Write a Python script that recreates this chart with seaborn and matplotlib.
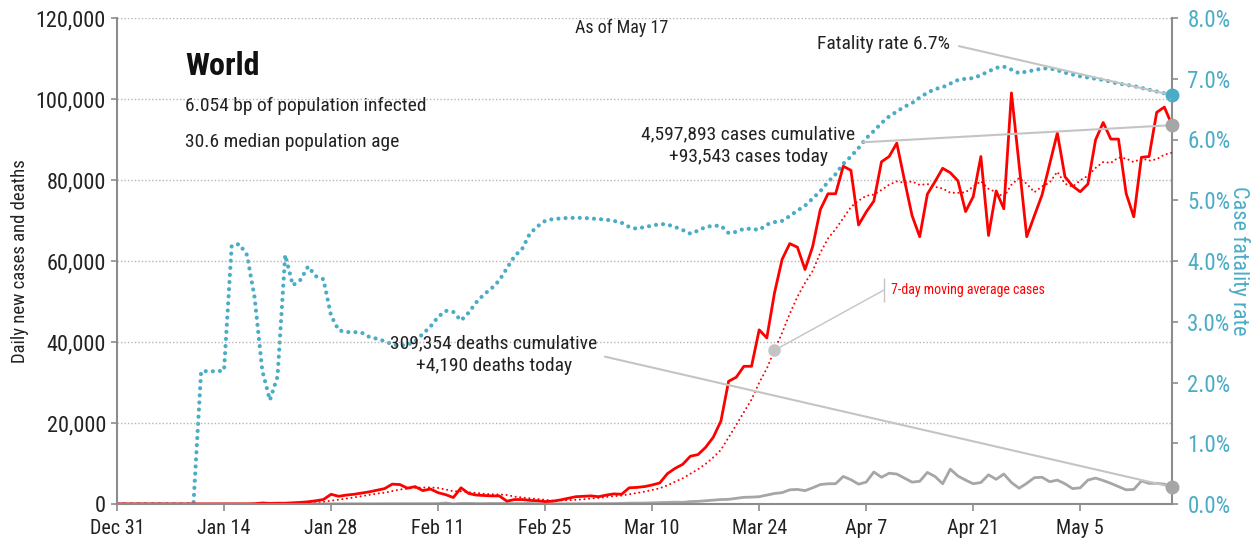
import matplotlib
matplotlib.use("Agg")
import matplotlib.pyplot as plt
import matplotlib.dates as mdates
from matplotlib.ticker import FuncFormatter, MultipleLocator
import seaborn as sns
import pandas as pd

# Daily series, one value per day from Dec 31 to May 17
start_date = "2019-12-31"

new_cases = [
    27, 0, 0, 17, 0, 15, 0, 0, 0, 0, 0, 0, 1, 0, 1, 0, 4, 17,
    60, 250, 150, 200, 200, 300, 400, 550, 800, 1100, 2400, 1900,
    2200, 2400, 2700, 3000, 3400, 3800, 4900, 4800, 3900, 4300,
    3300, 3700, 2800, 2300, 1600, 4000, 2600, 2200, 2100, 2000,
    2000, 700, 1100, 1100, 900, 800, 600, 700, 1000, 1400,
    1800, 1900, 2000, 1800, 2200, 2500, 2400, 4000, 4100, 4300,
    4700, 5200, 7500, 8800, 9800, 11800, 12200, 14000, 16500, 20500,
    30300, 31300, 34000, 34000, 43000, 41000, 52100, 60400, 64300, 63400,
    57900, 63600, 72700, 76600, 76600, 83400, 82400, 68900, 72100, 74800,
    84500, 85800, 89100, 80000, 71200, 66000, 76500, 79600, 82900, 81800,
    79800, 72200, 75900, 85800, 66300, 77300, 72900, 101500, 83700, 66000,
    71200, 76300, 84000, 91600, 80800, 78500, 77100, 79000, 89900, 94200,
    90100, 90100, 76700, 70900, 85600, 85800, 96700, 98000, 93543,
]

new_deaths = [
    0, 0, 0, 0, 0, 0, 0, 0, 0, 0, 0, 1, 0, 0, 0, 0, 1, 0,
    1, 0, 3, 3, 9, 8, 16, 15, 24, 26, 26, 38,
    43, 46, 45, 57, 64, 65, 73, 73, 86, 89,
    97, 108, 97, 254, 13, 143, 142, 106, 98, 139,
    115, 118, 109, 97, 150, 71, 52, 29, 44, 37,
    58, 67, 72, 84, 85, 102, 150, 213, 216, 240,
    300, 350, 400, 450, 400, 600, 650, 800, 950, 1100,
    1150, 1400, 1650, 1700, 1800, 2200, 2600, 2800, 3500, 3600,
    3300, 4000, 4800, 5000, 5000, 6800, 6000, 4900, 5400, 7900,
    6600, 7600, 7400, 6400, 5400, 5600, 7800, 6800, 5000, 8600,
    6900, 5900, 5000, 5300, 7200, 6100, 7400, 5300, 3900, 5100,
    6500, 6600, 5500, 5900, 5000, 3800, 4000, 5900, 6400, 5800,
    5100, 4300, 3500, 3600, 5700, 5100, 5100, 4900, 4190,
]

fatality_rate = [
    0, 0, 0, 0, 0, 0, 0, 0, 0, 0, 0,
    2.18, 2.19, 2.18, 2.20, 4.25, 4.28, 4.10, 3.40, 2.20, 1.71,
    2.10, 4.10, 3.60, 3.69, 3.91, 3.75, 3.70, 3.10, 2.86, 2.83,
    2.83, 2.82, 2.75, 2.72, 2.68, 2.63, 2.61, 2.62, 2.68, 2.80,
    2.92, 3.08, 3.18, 3.16, 3.02, 3.15, 3.32, 3.45, 3.55, 3.68,
    3.88, 4.08, 4.20, 4.45, 4.57, 4.66, 4.69, 4.70,
    4.71, 4.71, 4.71, 4.70, 4.69, 4.68, 4.66, 4.63, 4.56, 4.53,
    4.56, 4.58, 4.61, 4.60, 4.56, 4.51, 4.45, 4.50, 4.56, 4.58,
    4.58, 4.46, 4.48, 4.53, 4.53, 4.51, 4.60, 4.64, 4.66, 4.74,
    4.83, 4.91, 5.03, 5.15, 5.30, 5.43, 5.60, 5.72, 5.86, 6.02,
    6.14, 6.27, 6.38, 6.46, 6.54, 6.60, 6.69, 6.77, 6.83, 6.86,
    6.92, 6.98, 7.00, 7.01, 7.06, 7.12, 7.18, 7.20, 7.15, 7.09,
    7.12, 7.14, 7.17, 7.17, 7.14, 7.10, 7.07, 7.04, 7.02, 7.00,
    6.98, 6.95, 6.92, 6.90, 6.88, 6.85, 6.82, 6.79, 6.76, 6.73,
]

tick_dates = ["2019-12-31", "2020-01-14", "2020-01-28", "2020-02-11", "2020-02-25",
              "2020-03-10", "2020-03-24", "2020-04-07", "2020-04-21", "2020-05-05"]
tick_labels = ["Dec 31", "Jan 14", "Jan 28", "Feb 11", "Feb 25",
               "Mar 10", "Mar 24", "Apr 7", "Apr 21", "May 5"]

cases_total = "4,597,893"
cases_today = "+93,543"
deaths_total = "309,354"
deaths_today = "+4,190"

dates = pd.date_range(start_date, periods=len(new_cases), freq="D")
df = pd.DataFrame({"date": dates, "cases": new_cases, "deaths": new_deaths,
                   "cfr": fatality_rate})
df["cases_ma"] = df["cases"].rolling(7, min_periods=1).mean()

sns.set_style("white")
plt.rcParams["font.family"] = ["Roboto Condensed", "Liberation Sans Narrow",
                               "Roboto", "DejaVu Sans"]
plt.rcParams["font.stretch"] = "condensed"

RED = "#ff0000"
BLUE = "#4bacc6"
GREY = "#a6a6a6"
LIGHT = "#c4c4c4"
AXIS = "#8c8c8c"
TXT = "#222222"

x0 = mdates.date2num(dates[0])


def day(n):
    return x0 + n


fig = plt.figure(figsize=(12.6, 5.43), dpi=100)
ax = fig.add_axes([117 / 1260, 39 / 543, 1055 / 1260, 486 / 543])
ax2 = ax.twinx()

# case fatality rate on right axis
sns.lineplot(data=df, x="date", y="cfr", ax=ax2, color=BLUE, lw=3,
             linestyle=(0, (0.01, 1.7)), dash_capstyle="round")
ax2.plot(dates[-1], fatality_rate[-1], "o", ms=9, color=BLUE, zorder=5, clip_on=False)

# cases and deaths on left axis
sns.lineplot(data=df, x="date", y="cases_ma", ax=ax, color=RED, lw=1.5,
             linestyle=(0, (0.01, 2.2)), dash_capstyle="round")
sns.lineplot(data=df, x="date", y="deaths", ax=ax, color=GREY, lw=2)
sns.lineplot(data=df, x="date", y="cases", ax=ax, color=RED, lw=2)
ax.plot(dates[-1], new_cases[-1], "o", ms=9, color=GREY, zorder=5, clip_on=False)
ax.plot(dates[-1], new_deaths[-1], "o", ms=9, color=GREY, zorder=5, clip_on=False)

ax.set_zorder(ax2.get_zorder() + 1)
ax.patch.set_visible(False)

# axes
ax.set_xlim(day(0), day(len(new_cases) - 1))
ax.set_ylim(0, 120000)
ax2.set_ylim(0, 8)
ax.yaxis.set_major_locator(MultipleLocator(20000))
ax.yaxis.set_major_formatter(FuncFormatter(lambda v, p: f"{v:,.0f}"))
ax2.yaxis.set_major_locator(MultipleLocator(1))
ax2.yaxis.set_major_formatter(FuncFormatter(lambda v, p: f"{v:.1f}%"))
ax.set_xticks([mdates.date2num(pd.Timestamp(d)) for d in tick_dates])
ax.set_xticklabels(tick_labels)

ax.yaxis.grid(True, linestyle=(0, (1, 1.5)), color="#b5b5b5", lw=1)
ax.xaxis.grid(False)
ax2.grid(False)

for a in (ax, ax2):
    for s in a.spines.values():
        s.set_visible(False)
for s, a in (("left", ax), ("bottom", ax), ("right", ax2)):
    a.spines[s].set_visible(True)
    a.spines[s].set_color(AXIS)
    a.spines[s].set_linewidth(1.5)

ax.tick_params(axis="y", direction="out", length=4, width=1.2, color=AXIS,
               labelsize=16, pad=4, labelcolor=TXT, left=True)
ax.tick_params(axis="x", direction="out", length=5, width=1.2, color=AXIS,
               labelsize=14.5, pad=6, labelcolor=TXT, bottom=True)
ax2.tick_params(axis="y", direction="out", length=4, width=1.2, color=AXIS,
                labelsize=16.5, pad=7, labelcolor=BLUE, right=True)

ax.set_xlabel("")
ax.set_ylabel("Daily new cases and deaths", fontsize=13.5, color=TXT, labelpad=5)
ax2.set_ylabel("Case fatality rate", fontsize=16, color=BLUE, rotation=270, labelpad=14)

# header texts
ax.text(0.0645, 0.901, "World", transform=ax.transAxes, fontsize=23,
        fontweight="bold", va="center", ha="left", color="#111111")
ax.text(0.0645, 0.819, "6.054 bp of population infected", transform=ax.transAxes,
        fontsize=14, va="center", ha="left", color=TXT)
ax.text(0.0645, 0.745, "30.6 median population age", transform=ax.transAxes,
        fontsize=14, va="center", ha="left", color=TXT)
ax.text(0.4787, 0.979, "As of May 17", transform=ax.transAxes,
        fontsize=13, va="center", ha="center", color=TXT)

# callouts
ax2.annotate("Fatality rate 6.7%", xy=(dates[-1], fatality_rate[-1]),
             xytext=(day(109), 7.57), ha="right", va="center", fontsize=14,
             color=TXT,
             arrowprops=dict(arrowstyle="-", color=LIGHT, lw=1.5,
                             relpos=(1, 0.5), shrinkA=4, shrinkB=0))

ax.annotate(f"{cases_total} cases cumulative\n{cases_today} cases today",
            xy=(dates[-1], new_cases[-1]), xytext=(day(82.6), 88400),
            ha="center", va="center", fontsize=14, color=TXT,
            linespacing=1.35, multialignment="center",
            arrowprops=dict(arrowstyle="-", color=LIGHT, lw=1.5,
                            relpos=(1, 0.58), shrinkA=3, shrinkB=0))

ax.annotate(f"{deaths_total} deaths cumulative\n{deaths_today} deaths today",
            xy=(dates[-1], new_deaths[-1]), xytext=(day(49.3), 36800),
            ha="center", va="center", fontsize=14, color=TXT,
            linespacing=1.35, multialignment="center",
            arrowprops=dict(arrowstyle="-", color=LIGHT, lw=1.5,
                            relpos=(1, 0.5), shrinkA=3, shrinkB=0))

ma_day = 86
ma_val = df["cases_ma"].iloc[ma_day]
ax.plot(dates[ma_day], ma_val, "o", ms=8, color=LIGHT, zorder=6)
ax.vlines(day(100.3), 49900, 55800, color=LIGHT, lw=1)
ax.annotate("", xy=(dates[ma_day], ma_val), xytext=(day(100.3), 52800),
            arrowprops=dict(arrowstyle="-", color=LIGHT, lw=1, shrinkA=0, shrinkB=0))
ax.text(day(101.2), 52800, "7-day moving average cases", fontsize=10,
        color=RED, va="center", ha="left")

fig.savefig("out.png", dpi=100)
